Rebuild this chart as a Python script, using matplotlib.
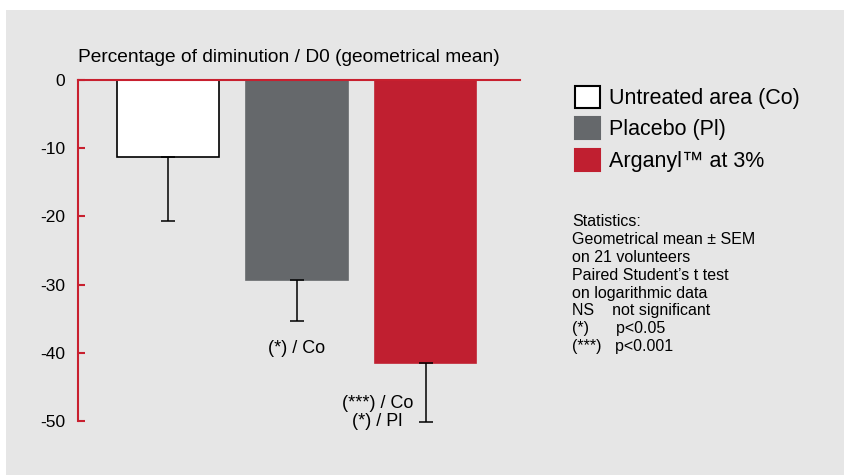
import matplotlib.pyplot as plt
from matplotlib.patches import Rectangle, Patch

plt.rcParams['font.family'] = ['Liberation Sans', 'DejaVu Sans']

# data
groups = ["Untreated area (Co)", "Placebo (Pl)", "Arganyl\u2122 at 3%"]
means = [-11.3, -29.3, -41.5]
sem = [9.4, 6.0, 8.6]
annotations = ["", "(*) / Co", "(***) / Co\n(*) / Pl"]
yticks = [0, -10, -20, -30, -40, -50]

colors = ["#ffffff", "#65686b", "#c01f30"]
red = "#c8202f"
panel = "#e6e6e6"

W, H = 844, 475
fig = plt.figure(figsize=(W / 100, H / 100), dpi=100)
fig.patch.set_facecolor("white")
fig.patches.append(Rectangle((6 / W, 0), 1 - 6 / W, 1 - 10 / H,
                             transform=fig.transFigure, facecolor=panel,
                             edgecolor="none", zorder=-10))

# axes: spine x=78..520 px, y=80 (0) .. 421 (-50) px
ax = fig.add_axes([78 / W, (H - 421) / H, (520 - 78) / W, (421 - 80) / H])
ax.set_facecolor("none")

x = list(range(len(groups)))
ax.bar(x, means, width=0.79, color=colors,
       edgecolor=["black", colors[1], colors[2]], linewidth=1.2, zorder=2)
ax.errorbar(x, means, yerr=[sem, [0] * 3], fmt="none", ecolor="black",
            elinewidth=1.1, capsize=5, capthick=1.1, zorder=3, clip_on=False)

ax.set_xlim(-0.70, 2.734)
ax.set_ylim(-50, 0)
ax.set_yticks(yticks)
ax.set_yticklabels([str(t) for t in yticks], fontsize=12.5)
ax.set_xticks([])
for side in ["bottom", "right"]:
    ax.spines[side].set_visible(False)
for side in ["left", "top"]:
    ax.spines[side].set_color(red)
    ax.spines[side].set_linewidth(1.5)
ax.tick_params(axis="y", direction="in", length=5, width=1.5, color=red, pad=9)

ax.text(-0.70, 3.3, "Percentage of diminution / D0 (geometrical mean)",
        fontsize=13.8, ha="left", va="center")

# significance labels under the error bars
ax.text(1, -39.4, annotations[1], fontsize=13, ha="center", va="center")
ax.text(2 - 0.375, -48.8, annotations[2], fontsize=13, ha="center", va="center",
        linespacing=1.08, clip_on=False)

handles = [Patch(facecolor=c, edgecolor=("black" if i == 0 else c), linewidth=1.5)
           for i, c in enumerate(colors)]
fig.legend(handles, groups, loc="upper left", bbox_to_anchor=(566 / W, 1 - 77 / H),
           frameon=False, fontsize=15.5, handlelength=1.2, handleheight=1.2,
           handletextpad=0.42, labelspacing=0.38, borderaxespad=0)

stats = ("Statistics:\n"
         "Geometrical mean \u00b1 SEM\n"
         "on 21 volunteers\n"
         "Paired Student\u2019s t test\n"
         "on logarithmic data\n"
         "NS    not significant\n"
         "(*)      p<0.05\n"
         "(***)   p<0.001")
fig.text(572 / W, 1 - 214 / H, stats, fontsize=11.5, ha="left", va="top",
         linespacing=1.24)

fig.savefig("out.png", dpi=100)
